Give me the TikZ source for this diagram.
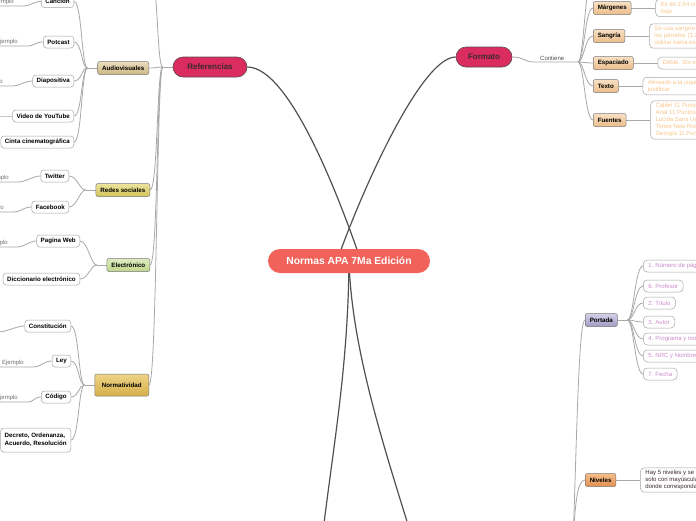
\documentclass[tikz,border=0pt]{standalone}
\usepackage{fontspec}
\setmainfont{Liberation Sans}
\usepackage{tikz}
\usetikzlibrary{positioning,backgrounds}
\usepackage{xcolor}

\definecolor{rootred}{HTML}{F1625B}
\definecolor{crimson}{HTML}{DA2C5E}
\definecolor{crimsonline}{HTML}{5B4A50}
\definecolor{darktext}{HTML}{3A2A30}
\definecolor{trunk}{HTML}{505050}
\definecolor{twiggray}{HTML}{A8A8A8}
\definecolor{boxline}{HTML}{7A7A7A}
\definecolor{leafline}{HTML}{A5A5A5}
\definecolor{notepeach}{HTML}{F8C68C}
\definecolor{notepink}{HTML}{C98BCC}
\definecolor{exgray}{HTML}{707070}
\definecolor{tanA}{HTML}{EADDBE}
\definecolor{tanB}{HTML}{CDB682}
\definecolor{yelA}{HTML}{ECE49E}
\definecolor{yelB}{HTML}{D2C45A}
\definecolor{grnA}{HTML}{DEECC2}
\definecolor{grnB}{HTML}{BDD58A}
\definecolor{golA}{HTML}{EDD488}
\definecolor{golB}{HTML}{D6AF48}
\definecolor{pchA}{HTML}{F8E0C4}
\definecolor{pchB}{HTML}{ECBD8A}
\definecolor{lavA}{HTML}{D4D0E8}
\definecolor{lavB}{HTML}{A39BC4}
\definecolor{orgA}{HTML}{F6BE88}
\definecolor{orgB}{HTML}{E29050}

\begin{document}
\begin{tikzpicture}[
      x=1pt, y=-1pt,
      every node/.style={font=\fontsize{6.2}{7}\selectfont},
      root/.style={rounded corners=12pt, fill=rootred, text=white,
                   font=\fontsize{10.3}{12}\selectfont\bfseries,
                   minimum width=162pt, minimum height=24pt},
      main/.style={draw=crimsonline, line width=0.6pt, rounded corners=10pt,
                   fill=crimson, text=darktext, minimum height=20pt,
                   font=\fontsize{8}{10}\selectfont\bfseries},
      sub/.style 2 args={draw=boxline, line width=0.5pt, rounded corners=2pt,
                   top color=#1, bottom color=#2, minimum height=13pt,
                   inner xsep=4.5pt, inner ysep=1pt,
                   font=\fontsize{6.2}{7}\selectfont\bfseries},
      leaf/.style={draw=leafline, line width=0.5pt, rounded corners=3pt,
                   fill=white, minimum height=12pt, inner xsep=4pt,
                   inner ysep=1pt, align=left, anchor=east,
                   font=\fontsize{6.2}{8}\selectfont\bfseries},
      note/.style={draw=leafline, line width=0.5pt, rounded corners=4pt,
                   fill=white, align=left, minimum height=12pt,
                   inner xsep=5pt, inner ysep=2.5pt,
                   font=\fontsize{6}{6.9}\selectfont},
      ej/.style={text=exgray, inner xsep=9pt, inner ysep=1.5pt,
                 anchor=south east, font=\fontsize{6}{7}\selectfont},
      link/.style={draw=trunk, line width=1.2pt},
      twig/.style={draw=twiggray, line width=0.8pt}
    ]
    \useasboundingbox (0,0) rectangle (696,520);

    \node[root] (apa) at (349,261) {Normas APA 7Ma Edición};
    \node[main, minimum width=74pt] (ref) at (210,67) {Referencias};
    \node[main, minimum width=56pt] (for) at (484,57) {Formato};
    \coordinate (bl) at (318,575);
    \coordinate (br) at (425,580);

    % Referencias
    \node[sub={tanA}{tanB}, anchor=east] (av) at (149,68) {Audiovisuales};
    \node[sub={yelA}{yelB}, anchor=east] (rs) at (150,190) {Redes sociales};
    \node[sub={grnA}{grnB}, anchor=east] (el) at (150,265) {Electrónico};
    \node[sub={golA}{golB}, anchor=east, minimum height=22pt,
          minimum width=54pt] (nor) at (149,385) {Normatividad};
    \coordinate[left=10pt of ref] (refh);
    \coordinate (reftop) at (150,-30);

    \node[leaf] (can) at (74,1.5) {Canción};
    \node[leaf] (pod) at (74,42) {Potcast};
    \node[leaf] (dia) at (74,81) {Diapositiva};
    \node[leaf] (you) at (74,116) {Video de YouTube};
    \node[leaf] (cin) at (74,142) {Cinta cinematográfica};
    \node[leaf] (twi) at (69,176) {Twitter};
    \node[leaf] (fac) at (69,207) {Facebook};
    \node[leaf] (pag) at (80,241) {Pagina Web};
    \node[leaf] (dic) at (80,279) {Diccionario electrónico};
    \node[leaf] (con) at (71,326) {Constitución};
    \node[leaf] (ley) at (71,361) {Ley};
    \node[leaf] (cod) at (71,397) {Código};
    \node[leaf, minimum height=24pt] (dec) at (71,440)
         {Decreto, Ordenanza,\\Acuerdo, Resolución};
    \coordinate[left=10pt of av] (avh);
    \coordinate[left=10pt of rs] (rsh);
    \coordinate[left=10pt of el] (elh);
    \coordinate[left=10pt of nor] (norh);

    \node[ej] (e1) at (23,6) {Ejemplo};
    \node[ej] (e2) at (27,46) {Ejemplo};
    \node[ej] (e3) at (12,86) {Ejemplo};
    \node[ej] (e4) at (-2,116) {Ejemplo};
    \node[ej] (e5) at (18,182) {Ejemplo};
    \node[ej] (e6) at (13,212) {Ejemplo};
    \node[ej] (e7) at (17,247) {Ejemplo};
    \node[ej] (e8) at (-2,332) {Ejemplo};
    \node[ej] (e9) at (33,367) {Ejemplo};
    \node[ej] (e10) at (27,402) {Ejemplo};

    % Formato
    \node[text=trunk, inner xsep=6pt, inner ysep=1.5pt, anchor=south west,
          font=\fontsize{6}{7}\selectfont] (ct) at (534,62) {Contiene};
    \coordinate (fh) at (578,62);
    \coordinate (fortop) at (593,-25);
    \node[sub={pchA}{pchB}, anchor=west] (mar) at (593,8) {Márgenes};
    \node[sub={pchA}{pchB}, anchor=west] (san) at (593,36) {Sangría};
    \node[sub={pchA}{pchB}, anchor=west] (esp) at (593,63) {Espaciado};
    \node[sub={pchA}{pchB}, anchor=west] (tex) at (593,86) {Texto};
    \node[sub={pchA}{pchB}, anchor=west] (fue) at (593,120) {Fuentes};

    \node[note, text=notepeach, right=24pt of mar] (marn)
         {Es de 2,54 cm en todos los lados de la\\hoja};
    \node[note, text=notepeach, right=24pt of san] (sann)
         {Se usa sangría en la primera línea de\\los párrafos (1,27 cm), no se\\utilizar barra espaciadora};
    \node[note, text=notepeach, right=24pt of esp] (espn)
         {Doble. Sin espacios adicionales};
    \node[note, text=notepeach, right=24pt of tex] (texn)
         {Alineado a la izquierda, no\\ justificar};
    \node[note, text=notepeach, right=24pt of fue] (fuen)
         {Calibri 11 Puntos\\Arial 11 Puntos\\Lucida Sans Unicode 10 Puntos\\Times New Roman 12 Puntos\\Georgia 11 Puntos};

    % Portada y Niveles
    \coordinate (bh) at (573,545);
    \node[sub={lavA}{lavB}, anchor=west] (port) at (585,320) {Portada};
    \node[sub={orgA}{orgB}, anchor=west] (niv) at (585,480) {Niveles};
    \coordinate[right=10pt of port] (ph);
    \node[note, text=notepink, anchor=west] (p1) at (643,266) {1. Número de página};
    \node[note, text=notepink, anchor=west] (p6) at (643,286) {6. Profesor};
    \node[note, text=notepink, anchor=west] (p2) at (643,303) {2. Título};
    \node[note, text=notepink, anchor=west] (p3) at (643,322) {3. Autor};
    \node[note, text=notepink, anchor=west] (p4) at (643,339) {4. Programa y nombre de la institución};
    \node[note, text=notepink, anchor=west] (p5) at (643,356) {5. NRC y Nombre del curso};
    \node[note, text=notepink, anchor=west] (p7) at (643,374) {7. Fecha};
    \node[note, text=darktext, right=24pt of niv] (nivn)
         {Hay 5 niveles y se escriben en negrita\\solo con mayúscula inicial\\donde corresponda.};

    \begin{scope}[on background layer]
      \fill[white] (0,0) rectangle (696,520);
      \draw[link] ([xshift=12pt]apa.center) .. controls (340,200) and (290,67) .. (ref.east);
      \draw[link] ([xshift=-12pt]apa.center) .. controls (358,200) and (420,57) .. (for.west);
      \draw[link] (apa.center) .. controls (348,380) and (330,460) .. (bl);
      \draw[link] (apa.center) .. controls (352,360) and (392,470) .. (br);

      \draw[twig] (ref.west) -- (refh);
      \foreach \c in {reftop,av,rs,el,nor}
        \draw[twig] (refh) .. controls +(-6,0) and +(8,0) .. (\c.east);
      \draw[twig] (av.west) -- (avh);
      \foreach \c in {can,pod,dia,you,cin}
        \draw[twig] (avh) .. controls +(-6,0) and +(8,0) .. (\c.east);
      \draw[twig] (rs.west) -- (rsh);
      \foreach \c in {twi,fac}
        \draw[twig] (rsh) .. controls +(-6,0) and +(8,0) .. (\c.east);
      \draw[twig] (el.west) -- (elh);
      \foreach \c in {pag,dic}
        \draw[twig] (elh) .. controls +(-6,0) and +(8,0) .. (\c.east);
      \draw[twig] (nor.west) -- (norh);
      \foreach \c in {con,ley,cod,dec}
        \draw[twig] (norh) .. controls +(-6,0) and +(8,0) .. (\c.east);
      \foreach \a/\b in {can/e1,pod/e2,dia/e3,you/e4,twi/e5,fac/e6,pag/e7,con/e8,ley/e9,cod/e10}
        \draw[twig] (\a.west) .. controls +(-8,0) and +(8,0) .. (\b.south east) -- (\b.south west);

      \draw[twig] (for.east) .. controls +(12,0) and +(-10,0) .. (ct.south west) -- (fh);
      \foreach \c in {fortop,mar,san,esp,tex,fue}
        \draw[twig] (fh) .. controls +(6,0) and +(-8,0) .. (\c.west);
      \foreach \a/\b in {mar/marn,san/sann,esp/espn,tex/texn,fue/fuen,niv/nivn}
        \draw[twig] (\a.east) -- (\b.west);

      \draw[twig] (bh) .. controls +(4,-120) and +(-6,0) .. (port.west);
      \draw[twig] (bh) .. controls +(2,-40) and +(-8,0) .. (niv.west);
      \draw[twig] (port.east) -- (ph);
      \foreach \c in {p1,p6,p2,p3,p4,p5,p7}
        \draw[twig] (ph) .. controls +(6,0) and +(-8,0) .. (\c.west);
    \end{scope}
  \end{tikzpicture}
\end{document}
